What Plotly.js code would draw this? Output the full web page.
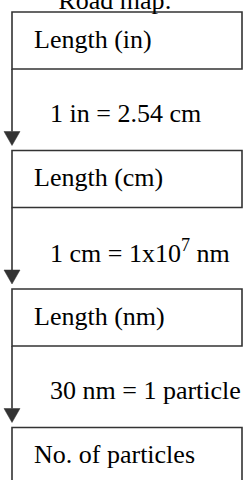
<!DOCTYPE html>
<html>
<head>
<meta charset="utf-8">
<script src="https://cdn.plot.ly/plotly-3.0.1.min.js"></script>
<style>html,body{margin:0;padding:0;background:#fff;}#chart{width:252px;height:480px;}</style>
</head>
<body>
<div id="chart"></div>
<script>
// ---- data ----
const chartTitle = "Road map:";
const steps = ["Length (in)", "Length (cm)", "Length (nm)", "No. of particles"];
const conversions = ["1 in = 2.54 cm", "1 cm = 1x10<sup>7</sup> nm", "30 nm = 1 particle"];

// ---- layout constants (pixel-based, converted through the y scale) ----
const PX = 138.5;              // pixels per step on the y axis
const TOP = 12;                // pixel of first box top
const boxX0 = 12, boxX1 = 242;
const boxH = 57 / PX;
const labelX = 32, convX = 48;
const labelDY = 27 / PX, convDY = 101 / PX;
const gap = 5 / PX, headH = 14 / PX, headW = 8;
const lineColor = "#333333";
const FONT = "Liberation Serif, Times New Roman, serif";

const shapes = [];
const annotations = [];

steps.forEach((s, i) => {
  shapes.push({type: "rect", xref: "x", yref: "y", x0: boxX0, x1: boxX1, y0: i, y1: i + boxH,
               line: {color: lineColor, width: 1.6}, fillcolor: "rgba(0,0,0,0)"});
  annotations.push({xref: "x", yref: "y", x: labelX, y: i + labelDY, text: s, showarrow: false,
                    xanchor: "left", yanchor: "middle", font: {family: FONT, size: 26, color: "#000"}});
});

conversions.forEach((c, i) => {
  const tip = i + 1 - gap;
  shapes.push({type: "line", xref: "x", yref: "y", x0: boxX0, x1: boxX0, y0: i + boxH, y1: tip - headH,
               line: {color: lineColor, width: 1.6}});
  shapes.push({type: "path", xref: "x", yref: "y",
               path: `M ${boxX0 - headW},${tip - headH} L ${boxX0 + headW},${tip - headH} L ${boxX0},${tip} Z`,
               fillcolor: lineColor, line: {color: lineColor, width: 0.5}});
  annotations.push({xref: "x", yref: "y", x: convX, y: i + convDY, text: c, showarrow: false,
                    xanchor: "left", yanchor: "middle", font: {family: FONT, size: 26, color: "#000"}});
});

const layout = {
  width: 252, height: 480,
  margin: {l: 0, r: 0, t: 0, b: 0, pad: 0},
  paper_bgcolor: "#fff", plot_bgcolor: "#fff",
  showlegend: false,
  title: {text: chartTitle, x: 115 / 252, xanchor: "center", xref: "paper",
          y: 1.013, yref: "container", yanchor: "middle",
          font: {family: FONT, size: 26, color: "#000"}},
  xaxis: {range: [0, 252], visible: false, fixedrange: true},
  yaxis: {range: [(480 - TOP) / PX, -TOP / PX], visible: false, fixedrange: true},
  shapes: shapes,
  annotations: annotations
};

Plotly.newPlot("chart", [{x: [], y: [], type: "scatter", hoverinfo: "skip"}], layout,
               {staticPlot: true, displayModeBar: false});
</script>
</body>
</html>
